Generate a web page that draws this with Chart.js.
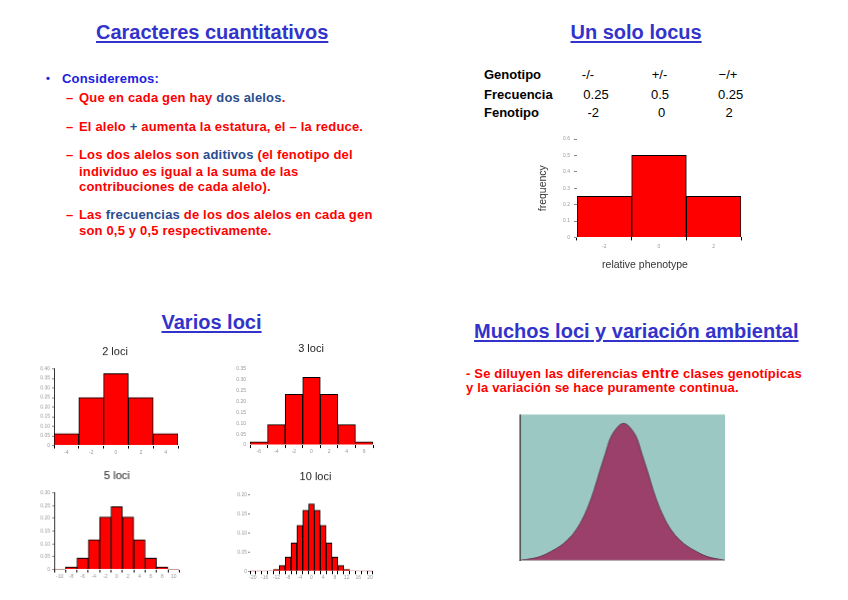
<!DOCTYPE html>
<html><head><meta charset="utf-8">
<script src="https://cdn.jsdelivr.net/npm/chart.js@4"></script>
<style>
body{margin:0;width:848px;height:600px;background:#fff;position:relative;overflow:hidden;font-family:"Liberation Sans",Arial,sans-serif;}
.t{position:absolute;white-space:nowrap;}
.title{font-size:20px;line-height:24px;font-weight:bold;color:#3333cc;text-decoration:underline;text-decoration-thickness:2px;text-underline-offset:2px;}
.b{font-size:13px;line-height:15px;font-weight:bold;color:#ff0000;letter-spacing:0.18px;}
.bl{color:#2a4d8f;}
.k{font-size:13px;line-height:15px;font-weight:bold;color:#000;}
.v{font-size:13px;line-height:15px;color:#000;width:60px;text-align:center;}
.box{position:absolute;}
</style></head><body>

<div class="t title" style="left:96px;top:20.4px">Caracteres cuantitativos</div>
<div class="t title" style="left:570.5px;top:20px">Un solo locus</div>
<div class="t title" style="left:161.5px;top:310.4px">Varios loci</div>
<div class="t title" style="left:474px;top:319.4px">Muchos loci y variación ambiental</div>

<div class="t b" style="left:46px;top:70.7px;color:#2020e0;font-size:11px">•</div>
<div class="t b" style="left:62px;top:70.7px;color:#2020e0">Consideremos:</div>
<div class="t b" style="left:66px;top:90.3px">–</div>
<div class="t b" style="left:79px;top:90.3px">Que en cada gen hay <span class="bl">dos alelos</span>.</div>
<div class="t b" style="left:66px;top:118.7px">–</div>
<div class="t b" style="left:79px;top:118.7px">El alelo <span class="bl">+</span> aumenta la estatura, el – la reduce.</div>
<div class="t b" style="left:66px;top:147px">–</div>
<div class="t b" style="left:79px;top:147px">Los dos alelos son <span class="bl">aditivos</span> (el fenotipo del</div>
<div class="t b" style="left:79px;top:163.7px">individuo es igual a la suma de las</div>
<div class="t b" style="left:79px;top:179px">contribuciones de cada alelo).</div>
<div class="t b" style="left:66px;top:207.3px">–</div>
<div class="t b" style="left:79px;top:207.3px">Las <span class="bl">frecuencias</span> de los dos alelos en cada gen</div>
<div class="t b" style="left:79px;top:223.3px">son 0,5 y 0,5 respectivamente.</div>

<div class="t k" style="left:484px;top:67.3px">Genotipo</div>
<div class="t k" style="left:484px;top:86.7px">Frecuencia</div>
<div class="t k" style="left:484px;top:104.7px">Fenotipo</div>
<div class="t v" style="left:558px;top:67.3px">-/-</div>
<div class="t v" style="left:629.5px;top:67.3px">+/-</div>
<div class="t v" style="left:698px;top:67.3px">−/+</div>
<div class="t v" style="left:566px;top:86.7px">0.25</div>
<div class="t v" style="left:630px;top:86.7px">0.5</div>
<div class="t v" style="left:700.7px;top:86.7px">0.25</div>
<div class="t v" style="left:563.3px;top:104.7px">-2</div>
<div class="t v" style="left:631.5px;top:104.7px">0</div>
<div class="t v" style="left:699px;top:104.7px">2</div>

<div class="t b" style="left:466px;top:365.3px">- Se diluyen las diferencias <span style="font-size:15px">entre</span> clases genotípicas</div>
<div class="t b" style="left:466px;top:380.3px">y la variación se hace puramente continua.</div>

<div class="box"><canvas id="cA"></canvas></div>
<div class="box"><canvas id="cB"></canvas></div>
<div class="box"><canvas id="cC"></canvas></div>
<div class="box"><canvas id="cD"></canvas></div>
<div class="box"><canvas id="cE"></canvas></div>
<div class="box" id="boxF"><canvas id="cF"></canvas></div>

<script>
// ---- data ----
const singleLabels = ['-2', '0', '2'];
const singleFreq = [0.25, 0.5, 0.25];
const loci2Labels = ['-4', '-2', '0', '2', '4'];
const loci2Freq = [0.0625, 0.25, 0.375, 0.25, 0.0625];
const loci3Labels = ['-6', '-4', '-2', '0', '2', '4', '6'];
const loci3Freq = [0.0156, 0.094, 0.234, 0.3125, 0.234, 0.094, 0.0156];
const loci5Labels = ['-10', '-8', '-6', '-4', '-2', '0', '2', '4', '6', '8', '10'];
const loci5Freq = [0.001, 0.0098, 0.044, 0.117, 0.205, 0.246, 0.205, 0.117, 0.044, 0.0098, 0.001];
const loci10Labels = ['-20','-18','-16','-14','-12','-10','-8','-6','-4','-2','0','2','4','6','8','10','12','14','16','18','20'];
const loci10Freq = [0.000001, 0.00002, 0.0002, 0.0011, 0.0046, 0.0148, 0.037, 0.074, 0.12, 0.16, 0.176, 0.16, 0.12, 0.074, 0.037, 0.0148, 0.0046, 0.0011, 0.0002, 0.00002, 0.000001];
const ambX = [0, 6.1, 10.1, 15.0, 21.5, 26.8, 30.4, 33.6, 36.4, 38.9, 41.7, 44.1, 47.4, 49.0, 50.6, 52.2, 53.8, 57.1, 59.5, 62.3, 64.8, 67.6, 70.8, 74.4, 79.7, 86.2, 91.1, 95.1, 100];
const ambY = [0.4, 1.6, 3, 6.2, 12, 19.8, 28, 38, 49, 60.8, 73, 83.6, 91, 93.2, 93.9, 93.2, 91, 83.6, 73, 60.8, 49, 38, 28, 19.8, 12, 6.2, 3, 1.6, 0.4];

Chart.defaults.font.family = '"Liberation Sans", Arial, sans-serif';
Chart.defaults.animation = false;

function hist(id, c) {
  const [x0, y0, x1, y1] = c.plot;
  const L = x0 - c.leftW, R = x1 + c.rightW;
  const cv = document.getElementById(id);
  const box = cv.parentNode;
  box.style.left = L + 'px'; box.style.top = c.top + 'px';
  box.style.width = (R - L) + 'px'; box.style.height = (c.bottom - c.top) + 'px';
  const tlh = c.titleSize * 1.2;
  const titleTop = c.titlePos === 'top';
  const xH = titleTop ? c.bottom - y1 : c.bottom - tlh - y1;
  const every = c.xEvery || 1;
  new Chart(cv, {
    type: 'bar',
    data: { labels: c.labels, datasets: [{ data: c.values, xAxisID: 'x', yAxisID: 'y',
      backgroundColor: '#ff0000', borderColor: '#000', borderWidth: 1,
      barPercentage: 1, categoryPercentage: 1 }] },
    options: {
      responsive: true, maintainAspectRatio: false, animation: false,
      layout: { padding: { top: titleTop ? 0 : y0 - c.top, left: 0, right: 0, bottom: 0 } },
      plugins: {
        legend: { display: false }, tooltip: { enabled: false },
        title: { display: true, text: c.title, position: c.titlePos, color: c.titleColor || '#222',
          font: { size: c.titleSize, weight: 'normal' },
          padding: titleTop ? { top: 0, bottom: y0 - c.top - tlh } : { top: 0, bottom: 0 } }
      },
      scales: {
        x: { type: 'category', offset: true,
          grid: { offset: true, drawOnChartArea: false, drawTicks: true, tickLength: 3, color: '#000' },
          border: { display: false },
          ticks: { font: { size: 5 }, color: '#999', padding: c.xPad, maxRotation: 0, minRotation: 0, autoSkip: false,
            callback: function (v, i) { return (i % every === 0) ? this.getLabelForValue(v) : ''; } },
          afterFit: s => { s.height = xH; s.paddingLeft = 0; s.paddingRight = 0; } },
        y: { position: 'left', min: 0, max: c.ymax,
          ticks: { stepSize: c.ystep, font: { size: 5 }, color: '#999', padding: c.yPad },
          grid: { drawOnChartArea: false, drawTicks: c.yTick > 0, tickLength: c.yTick, color: '#888' },
          border: { display: !!c.yBorder, color: '#333', width: 1 },
          title: c.ytitle ? { display: true, text: c.ytitle, color: '#333', font: { size: 10.5 }, padding: { top: c.ytitlePad, bottom: 0 } } : { display: false },
          afterFit: s => { s.width = c.leftW; s.paddingTop = 0; s.paddingBottom = 0; } },
        y2: { position: 'right', display: true, grid: { display: false }, border: { display: false },
          ticks: { display: false },
          afterFit: s => { s.width = c.rightW; s.paddingTop = 0; s.paddingBottom = 0; } }
      }
    }
  });
}

hist('cA', { labels: singleLabels, values: singleFreq, ymax: 0.6, ystep: 0.1,
  plot: [577, 138.6, 741, 237], leftW: 42, rightW: 14, top: 133.6, bottom: 271,
  title: 'relative phenotype', titlePos: 'bottom', titleSize: 10.5, titleColor: '#333',
  ytitle: 'frequency', ytitlePad: 1.7, xPad: 3, yPad: 4, yTick: 3, yBorder: false });

hist('cB', { labels: loci2Labels, values: loci2Freq, ymax: 0.4, ystep: 0.05,
  plot: [54, 369, 178, 445], leftW: 30, rightW: 28, top: 345.4, bottom: 457,
  title: '2 loci', titlePos: 'top', titleSize: 11, xPad: 1, yPad: 2, yTick: 2, yBorder: true });

hist('cC', { labels: loci3Labels, values: loci3Freq, ymax: 0.35, ystep: 0.05,
  plot: [250, 369, 373, 445], leftW: 30, rightW: 29, top: 341.9, bottom: 457,
  title: '3 loci', titlePos: 'top', titleSize: 11, xPad: 1, yPad: 4, yTick: 0, yBorder: false });

hist('cD', { labels: loci5Labels, values: loci5Freq, ymax: 0.3, ystep: 0.05,
  plot: [54.3, 493, 178.7, 569], leftW: 30, rightW: 30.4, top: 469.4, bottom: 581,
  title: '5 loci', titlePos: 'top', titleSize: 11, xPad: 1, yPad: 2, yTick: 2, yBorder: true });

hist('cE', { labels: loci10Labels, values: loci10Freq, ymax: 0.2, ystep: 0.05,
  plot: [249.5, 495, 372.5, 570.7], leftW: 30, rightW: 38, top: 470.4, bottom: 583,
  title: '10 loci', titlePos: 'top', titleSize: 11, xPad: 0, yPad: 1, yTick: 2, yBorder: false, xEvery: 2 });

// ---- ambient variation curve ----
const boxF = document.getElementById('boxF');
Object.assign(boxF.style, { left: '519px', top: '414.3px', width: '205.7px', height: '146.4px' });
const bgPlugin = {
  id: 'bgPlugin',
  beforeDraw(chart) {
    const { ctx, chartArea: a } = chart;
    ctx.save();
    ctx.fillStyle = '#9cc8c4';
    ctx.fillRect(a.left, a.top, a.right - a.left, a.bottom - a.top);
    ctx.restore();
  },
  afterDraw(chart) {
    const { ctx, chartArea: a } = chart;
    ctx.save();
    ctx.strokeStyle = '#b8b8b8'; ctx.lineWidth = 1;
    ctx.beginPath(); ctx.moveTo(a.left, a.bottom - 0.5); ctx.lineTo(a.right, a.bottom - 0.5); ctx.stroke();
    ctx.strokeStyle = '#555'; ctx.lineWidth = 1.5;
    ctx.beginPath(); ctx.moveTo(a.left + 0.75, a.top); ctx.lineTo(a.left + 0.75, a.bottom); ctx.stroke();
    ctx.restore();
  }
};
new Chart(document.getElementById('cF'), {
  type: 'line',
  data: { datasets: [{ data: ambX.map((x, i) => ({ x: x, y: ambY[i] })),
    borderColor: '#5e3a4c', borderWidth: 1, backgroundColor: '#9b406a', fill: 'origin',
    pointRadius: 0, cubicInterpolationMode: 'monotone' }] },
  options: {
    responsive: true, maintainAspectRatio: false, animation: false,
    layout: { padding: 0 },
    plugins: { legend: { display: false }, tooltip: { enabled: false } },
    scales: {
      x: { type: 'linear', min: 0, max: 100, display: false },
      y: { min: 0, max: 100, display: false }
    }
  },
  plugins: [bgPlugin]
});
</script>
</body></html>
